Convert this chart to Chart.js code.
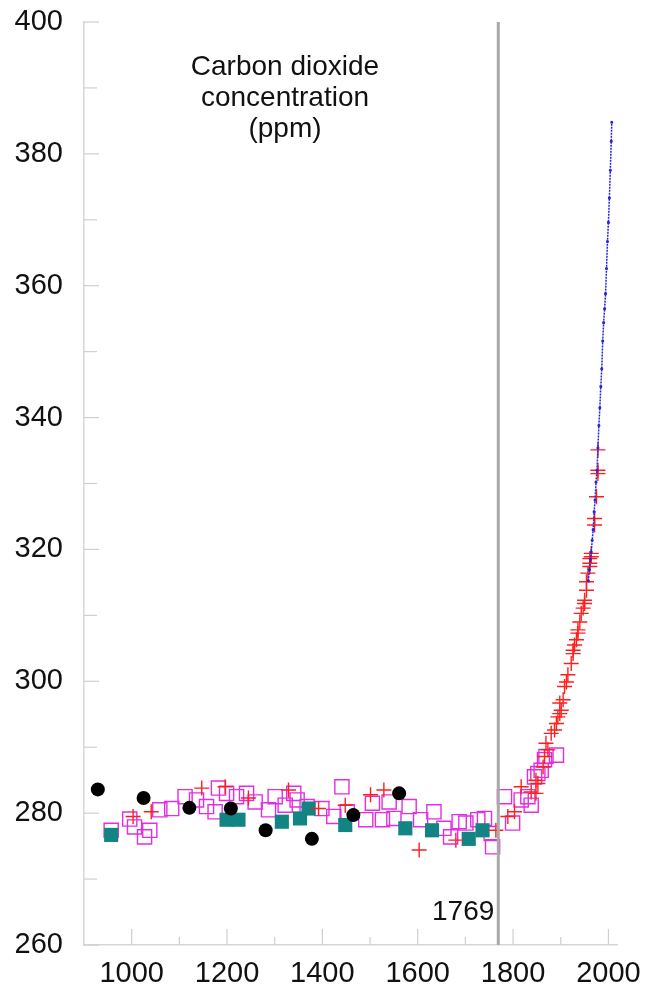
<!DOCTYPE html>
<html>
<head>
<meta charset="utf-8">
<title>Carbon dioxide concentration</title>
<script src="https://cdn.jsdelivr.net/npm/chart.js@4.4.0/dist/chart.umd.min.js"></script>
<style>
	html, body { margin: 0; padding: 0; background: #fff; }
	#wrap { position: relative; width: 648px; height: 993px; }
</style>
</head>
<body>
<div id="wrap"><canvas id="co2Chart"></canvas></div>
<script>
// ---- data ----
const xTicks = [1000, 1200, 1400, 1600, 1800, 2000];
const xMinorTicks = [1100, 1300, 1500, 1700, 1900];
const yTicks = [260, 280, 300, 320, 340, 360, 380, 400];
const yMinorTicks = [270, 290, 310, 330, 350, 370, 390];

const titleLines = ['Carbon dioxide', 'concentration', '(ppm)'];
const markYear = 1769;

// open magenta squares
const squareYears = [957, 996, 1006, 1027, 1038, 1059, 1084, 1112, 1136, 1157, 1175, 1182, 1199, 1220, 1241, 1259, 1287, 1301,
	1322, 1340, 1347, 1368, 1399, 1424, 1441, 1452, 1491, 1505, 1526, 1540, 1550, 1582, 1606, 1634, 1655, 1669, 1687, 1701,
	1726, 1740, 1754, 1757, 1782, 1799, 1817, 1831, 1838, 1845, 1852, 1859, 1866, 1869, 1891];
const squarePpm = [277.4, 279.1, 277.9, 276.4, 277.4, 280.5, 280.7, 282.5, 282.0, 281.0, 280.2, 283.8, 283.0, 282.5, 283.0, 281.7, 280.5, 282.5,
	281.2, 283.0, 282.0, 281.0, 280.7, 279.5, 284.0, 280.2, 279.0, 281.5, 279.0, 281.7, 279.2, 281.0, 279.0, 280.2, 277.7, 276.4, 278.7, 278.5,
	279.0, 279.2, 276.9, 274.9, 282.5, 278.5, 282.0, 282.5, 281.2, 285.5, 286.0, 286.5, 288.1, 288.6, 288.8];

// filled teal squares
const tealYears = [957, 1199, 1224, 1315, 1353, 1371, 1448, 1574, 1630, 1707, 1736];
const tealPpm = [276.7, 279.0, 279.0, 278.7, 279.2, 280.7, 278.2, 277.7, 277.4, 276.1, 277.4];

// black dots
const dotYears = [929, 1025, 1121, 1208, 1281, 1378, 1465, 1561];
const dotPpm = [283.6, 282.3, 280.8, 280.7, 277.4, 276.1, 279.7, 283.0];

// red crosses
const crossYears = [1003, 1041, 1147, 1196, 1245, 1329, 1392, 1448, 1501, 1529, 1603, 1680, 1764, 1789, 1803, 1817, 1838, 1848,
	1866, 1848, 1852, 1863, 1869, 1873, 1880, 1887, 1891, 1894, 1898, 1898, 1901, 1905, 1908, 1912, 1915, 1922, 1926, 1926,
	1929, 1933, 1936, 1936, 1940, 1943, 1947, 1950, 1950, 1954, 1954, 1957, 1961, 1961, 1961, 1964, 1964, 1971, 1971, 1975,
	1978, 1978, 1978];
const crossPpm = [279.5, 280.2, 283.8, 284.0, 282.3, 283.5, 280.7, 281.2, 282.8, 283.5, 274.4, 275.9, 277.4, 279.5, 280.2, 284.0, 283.2, 285.0,
	288.6, 283.0, 284.5, 287.0, 290.6, 289.6, 292.1, 292.6, 293.6, 294.6, 295.1, 296.7, 295.6, 297.2, 299.2, 299.9, 301.0, 302.7, 304.2, 304.7,
	305.5, 306.3, 307.3, 307.8, 309.0, 310.3, 311.1, 311.8, 312.3, 313.8, 315.1, 316.4, 317.4, 317.9, 318.6, 318.9, 319.4, 323.7, 324.7, 328.0,
	331.5, 332.0, 335.1];

// blue instrumental record
const blueYears = [1958, 1960, 1962, 1964, 1966, 1968, 1970, 1972, 1974, 1976, 1978, 1980, 1982, 1984, 1986, 1988, 1990,
	1992, 1994, 1996, 1998, 2000, 2002, 2004, 2006, 2007];
const bluePpm = [315.2, 316.9, 318.5, 319.6, 321.4, 323.0, 325.7, 327.5, 330.2, 332.0, 335.4, 338.8, 341.5, 344.7, 347.4, 351.6, 354.4,
	356.5, 358.8, 362.6, 366.7, 369.6, 373.3, 377.5, 381.9, 384.8];

function pairs(xs, ys) {
	return xs.map((v, i) => ({ x: v, y: ys[i] }));
}

const FONT = '"Liberation Sans", Arial, Helvetica, sans-serif';

// inward tick marks + text annotations
const decorPlugin = {
	id: 'decor',
	beforeDatasetsDraw(chart) {
		const { ctx, chartArea: a, scales: { x, y } } = chart;
		ctx.save();
		ctx.strokeStyle = '#cfcfcf';
		ctx.lineWidth = 1.2;
		const seg = (x1, y1, x2, y2) => {
			ctx.beginPath();
			ctx.moveTo(x1, y1);
			ctx.lineTo(x2, y2);
			ctx.stroke();
		};
		xTicks.forEach(v => { const p = x.getPixelForValue(v); seg(p, a.bottom, p, a.bottom - 16); });
		xMinorTicks.forEach(v => { const p = x.getPixelForValue(v); seg(p, a.bottom, p, a.bottom - 8); });
		yTicks.forEach(v => { const p = y.getPixelForValue(v); seg(a.left, p, a.left + 15, p); });
		yMinorTicks.forEach(v => { const p = y.getPixelForValue(v); seg(a.left, p, a.left + 13, p); });
		ctx.restore();
	},
	afterDatasetsDraw(chart) {
		const { ctx, scales: { x } } = chart;
		ctx.save();
		ctx.fillStyle = '#111';
		ctx.font = '28px ' + FONT;
		ctx.textAlign = 'center';
		ctx.textBaseline = 'middle';
		titleLines.forEach((t, i) => ctx.fillText(t, 285, 67 + i * 31));
		ctx.textAlign = 'right';
		ctx.fillText(String(markYear), x.getPixelForValue(markYear) - 4, 912);
		ctx.restore();
	}
};

new Chart(document.getElementById('co2Chart'), {
	type: 'scatter',
	data: {
		datasets: [
			{
				label: 'marker',
				data: [{ x: markYear, y: 260 }, { x: markYear, y: 400 }],
				showLine: true,
				borderColor: '#a9a9a9',
				borderWidth: 3,
				pointRadius: 0,
				order: 0
			},
			{
				label: 'instrumental',
				data: pairs(blueYears, bluePpm),
				showLine: true,
				borderColor: '#2626d6',
				backgroundColor: '#2626d6',
				borderWidth: 1.5,
				borderDash: [2, 1],
				pointRadius: 0.8,
				order: 1
			},
			{
				label: 'crosses',
				data: pairs(crossYears, crossPpm),
				pointStyle: 'cross',
				pointRadius: 7.5,
				borderColor: '#ff1e1e',
				borderWidth: 1.4,
				order: 2
			},
			{
				label: 'dots',
				data: pairs(dotYears, dotPpm),
				pointStyle: 'circle',
				pointRadius: 7,
				backgroundColor: '#000',
				borderColor: '#000',
				borderWidth: 0,
				order: 3
			},
			{
				label: 'teal',
				data: pairs(tealYears, tealPpm),
				pointStyle: 'rect',
				pointRadius: 10,
				backgroundColor: '#138484',
				borderColor: '#138484',
				borderWidth: 0,
				order: 4
			},
			{
				label: 'squares',
				data: pairs(squareYears, squarePpm),
				pointStyle: 'rect',
				pointRadius: 10,
				backgroundColor: 'rgba(0,0,0,0)',
				borderColor: '#e22ee2',
				borderWidth: 1.4,
				order: 5
			}
		]
	},
	options: {
		responsive: true,
		maintainAspectRatio: false,
		animation: false,
		layout: { padding: { top: 22, right: 31, bottom: 0, left: 0 } },
		plugins: {
			legend: { display: false },
			tooltip: { enabled: false }
		},
		scales: {
			x: {
				type: 'linear',
				min: 900,
				max: 2018,
				afterBuildTicks: s => { s.ticks = xTicks.map(v => ({ value: v })); },
				afterFit: s => {
					s.height = 48;
					s.paddingLeft = 0;
					s.paddingRight = 0;
				},
				grid: { drawOnChartArea: false, drawTicks: false },
				border: { color: '#d6d6d6', width: 1.5 },
				ticks: {
					padding: 12,
					color: '#111',
					font: { family: FONT, size: 29 },
					callback: v => String(v)
				}
			},
			y: {
				type: 'linear',
				min: 260,
				max: 400,
				afterBuildTicks: s => { s.ticks = yTicks.map(v => ({ value: v })); },
				afterFit: s => {
					s.width = 84;
					s.paddingTop = 0;
					s.paddingBottom = 0;
				},
				grid: { drawOnChartArea: false, drawTicks: false },
				border: { color: '#d6d6d6', width: 1.5 },
				ticks: {
					padding: 21,
					color: '#111',
					font: { family: FONT, size: 29 },
					callback: v => String(v)
				}
			}
		}
	},
	plugins: [decorPlugin]
});
</script>
</body>
</html>
